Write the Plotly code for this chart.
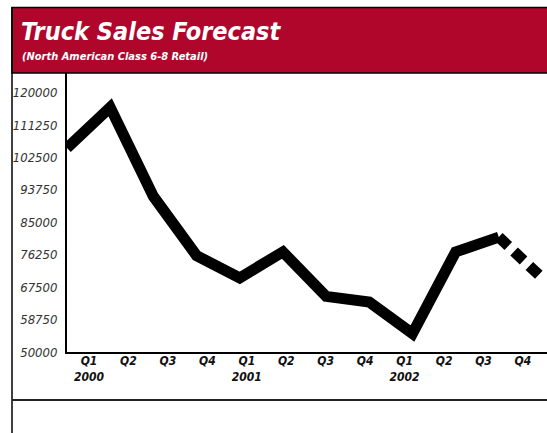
import plotly.graph_objects as go

# ---- data ----
quarters = ["Q1", "Q2", "Q3", "Q4", "Q1", "Q2", "Q3", "Q4", "Q1", "Q2", "Q3", "Q4"]
years = ["2000", "", "", "", "2001", "", "", "", "2002", "", "", ""]
sales = [105000, 116000, 92000, 76000, 70000, 77000, 65000, 63500, 55000, 77000, 81000, 70000]
n_actual = 11  # last point is the forecast (dashed)
y_ticks = [50000, 58750, 67500, 76250, 85000, 93750, 102500, 111250, 120000]

W, H = 547, 433
L, T = 67, 73
R = 0
B = H - 352
pw, ph = W - L - R, H - T - B


def px(x):
    return (x - L) / pw


def py(y):
    return (H - B - y) / ph


idx = list(range(len(sales)))
fig = go.Figure()
fig.add_trace(go.Scatter(
    x=idx[:n_actual], y=sales[:n_actual], mode="lines",
    line=dict(color="black", width=11), hoverinfo="skip", showlegend=False))
fig.add_trace(go.Scatter(
    x=idx[n_actual - 1:], y=sales[n_actual - 1:], mode="lines",
    line=dict(color="black", width=11, dash="13px,8px"), hoverinfo="skip", showlegend=False))
# invisible trace for the category label axis
fig.add_trace(go.Scatter(x=idx, y=sales, xaxis="x2", mode="none",
                         hoverinfo="skip", showlegend=False))

ticktext = [q + ("<br>" + y if y else "") for q, y in zip(quarters, years)]
FAM = "DejaVu Sans Condensed, Liberation Sans Narrow, Liberation Sans, Arial"

fig.update_layout(
    width=W, height=H,
    margin=dict(l=L, r=R, t=T, b=B, pad=0),
    paper_bgcolor="white", plot_bgcolor="white",
    xaxis=dict(range=[0, 11 * pw / 475], showgrid=False, zeroline=False,
               showticklabels=False, showline=True, linecolor="black", linewidth=2,
               ticks=""),
    xaxis2=dict(overlaying="x", anchor="y", side="bottom",
                range=[-(89 - 67) / 39.45, (547 - 89) / 39.45],
                tickmode="array", tickvals=idx, ticktext=ticktext,
                showgrid=False, zeroline=False, showline=False, ticks="",
                tickfont=dict(family=FAM, size=12, color="#111", weight="bold", style="italic")),
    yaxis=dict(range=[50000, 120000 + 19.5 * 70000 / 259.5], tickmode="array",
               tickvals=y_ticks, ticktext=[str(v) for v in y_ticks],
               showgrid=False, zeroline=False, showline=True, linecolor="black",
               linewidth=2, ticks="", ticklabelstandoff=5,
               tickfont=dict(family=FAM, size=13, color="#333", style="italic")),
)

shapes = [
    # red header
    dict(type="rect", xref="paper", yref="paper", x0=px(12), x1=px(W + 10), y0=py(73), y1=py(7.5),
         fillcolor="#b0062c", line=dict(color="black", width=1.5), layer="above"),
    # left frame
    dict(type="line", xref="paper", yref="paper", x0=px(12), x1=px(12), y0=py(7), y1=py(H + 10),
         line=dict(color="black", width=1.5)),
    # bottom separator
    dict(type="line", xref="paper", yref="paper", x0=px(12), x1=px(W + 10), y0=py(400), y1=py(400),
         line=dict(color="#222", width=2)),
]
fig.update_layout(shapes=shapes)

fig.add_annotation(xref="paper", yref="paper", x=px(19), y=py(15), xanchor="left", yanchor="top",
                   text="<b><i>Truck Sales Forecast</i></b>", showarrow=False,
                   font=dict(family=FAM, size=25, color="white"))
fig.add_annotation(xref="paper", yref="paper", x=px(20), y=py(48), xanchor="left", yanchor="top",
                   text="<b><i>(North American Class 6-8 Retail)</i></b>", showarrow=False,
                   font=dict(family=FAM, size=11, color="white"))

fig.write_html("out.html",
               config={"displayModeBar": False},
               post_script="document.body.style.margin='0';document.body.style.overflow='hidden';")
